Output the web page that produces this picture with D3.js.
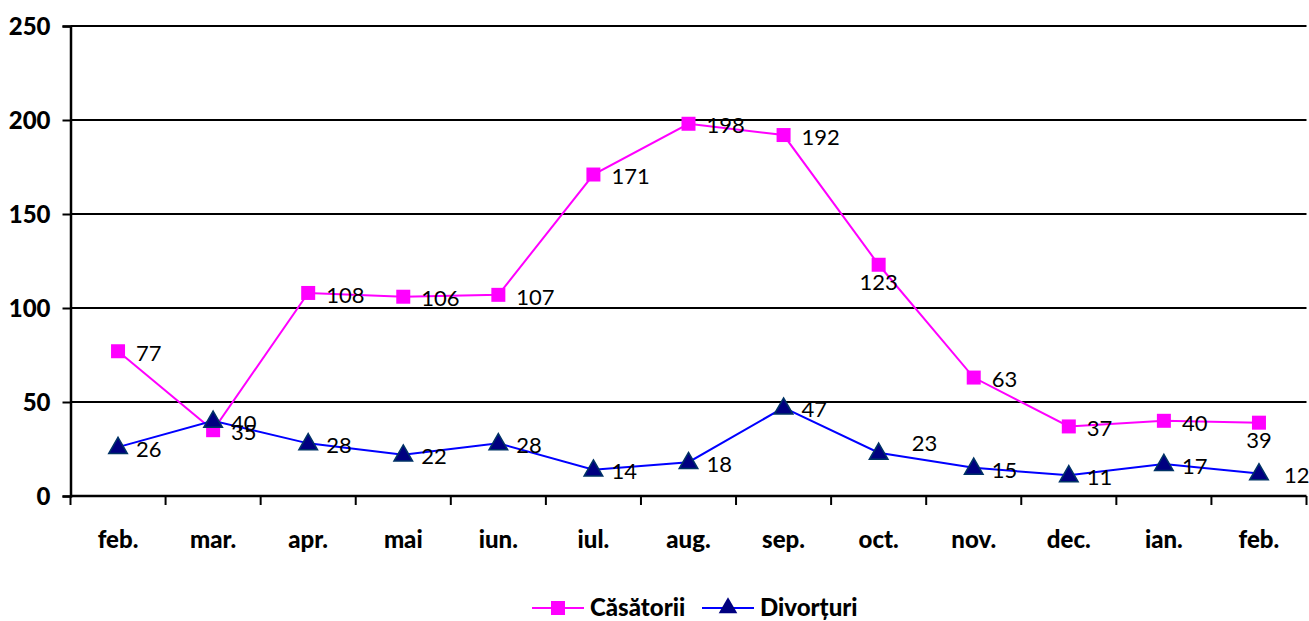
<!DOCTYPE html>
<html>
<head>
<meta charset="utf-8">
<script src="https://cdn.jsdelivr.net/npm/d3@7"></script>
<style>
  body { margin: 0; background: #fff; }
  text { font-family: Lato, "Open Sans", sans-serif; }
</style>
</head>
<body>
<div id="chart"></div>
<script>
//--------------------------- Data

var months = ["feb.", "mar.", "apr.", "mai", "iun.", "iul.", "aug.", "sep.", "oct.", "nov.", "dec.", "ian.", "feb."];
var casatorii = [77, 35, 108, 106, 107, 171, 198, 192, 123, 63, 37, 40, 39];
var divorturi = [26, 40, 28, 22, 28, 14, 18, 47, 23, 15, 11, 17, 12];
var yTicks = [0, 50, 100, 150, 200, 250];

// where each value label sits relative to its marker
var casLabelPos = ["r", "r", "r", "r", "r", "r", "r", "r", "b", "r", "r", "r", "b"];
var divLabelPos = ["r", "r", "r", "r", "r", "r", "r", "r", "ar", "r", "r", "r", "rr"];

//--------------------------- SVG definition

var width = 1309;
var height = 621;
var margin = { left: 70.5, right: 2.5, top: 26, bottom: 125 };

var svg = d3.select("#chart")
    .append("svg")
    .attr("width", width)
    .attr("height", height);

var x = d3.scaleBand()
    .domain(d3.range(months.length))
    .range([margin.left, width - margin.right]);

var y = d3.scaleLinear()
    .domain([0, 250])
    .range([height - margin.bottom, margin.top]);

var cx = function (i) { return x(i) + x.bandwidth() / 2; };

//--------------------------- Grid and axes

svg.append("g")
    .selectAll("line")
    .data(yTicks.slice(1))
    .enter()
    .append("line")
    .attr("x1", margin.left)
    .attr("x2", width - margin.right)
    .attr("y1", function (d) { return y(d); })
    .attr("y2", function (d) { return y(d); })
    .style("stroke", "#000")
    .style("stroke-width", 2);

var yAxis = svg.append("g")
    .attr("transform", "translate(" + margin.left + ",0)")
    .call(d3.axisLeft(y).tickValues(yTicks).tickSize(8).tickPadding(12));
yAxis.select(".domain").style("stroke-width", 2.5);
yAxis.selectAll(".tick line").style("stroke-width", 2);
yAxis.selectAll("text")
    .style("font-size", "24px")
    .style("font-weight", "900")
    .attr("dy", "0.35em");

var bounds = d3.range(months.length + 1).map(function (i) {
    return i < months.length ? x(i) : x(months.length - 1) + x.bandwidth();
});

var xAxis = svg.append("g")
    .attr("transform", "translate(0," + y(0) + ")");
xAxis.append("line")
    .attr("x1", margin.left)
    .attr("x2", width - margin.right)
    .style("stroke", "#000")
    .style("stroke-width", 2.5);
xAxis.selectAll("line.tk")
    .data(bounds)
    .enter()
    .append("line")
    .attr("class", "tk")
    .attr("x1", function (d) { return d; })
    .attr("x2", function (d) { return d; })
    .attr("y1", 0)
    .attr("y2", 9)
    .style("stroke", "#000")
    .style("stroke-width", 2);
xAxis.selectAll("text")
    .data(months)
    .enter()
    .append("text")
    .attr("x", function (d, i) { return cx(i); })
    .attr("y", 52)
    .attr("text-anchor", "middle")
    .style("font-size", "24px")
    .style("font-weight", "900")
    .text(function (d) { return d; });

//--------------------------- Series

var line = d3.line()
    .x(function (d, i) { return cx(i); })
    .y(function (d) { return y(d); });

svg.append("path")
    .attr("d", line(casatorii))
    .style("fill", "none")
    .style("stroke", "#ff00ff")
    .style("stroke-width", 2);

svg.append("path")
    .attr("d", line(divorturi))
    .style("fill", "none")
    .style("stroke", "#0000ff")
    .style("stroke-width", 2);

var square = d3.symbol().type(d3.symbolSquare).size(196);
var triangle = d3.symbol().type(d3.symbolTriangle).size(150);

svg.append("g")
    .selectAll("path")
    .data(casatorii)
    .enter()
    .append("path")
    .attr("d", square)
    .attr("transform", function (d, i) { return "translate(" + cx(i) + "," + y(d) + ")"; })
    .style("fill", "#ff00ff");

svg.append("g")
    .selectAll("path")
    .data(divorturi)
    .enter()
    .append("path")
    .attr("d", triangle)
    .attr("transform", function (d, i) { return "translate(" + cx(i) + "," + (y(d) + 1) + ")"; })
    .style("fill", "#000080")
    .style("stroke", "#003366")
    .style("stroke-width", 1.5);

//--------------------------- Value labels

function addLabels(values, pos) {
    svg.append("g")
        .selectAll("text")
        .data(values)
        .enter()
        .append("text")
        .attr("x", function (d, i) {
            if (pos[i] === "b") return cx(i);
            if (pos[i] === "ar") return cx(i) + 33;
            if (pos[i] === "rr") return cx(i) + 25;
            return cx(i) + 18;
        })
        .attr("y", function (d, i) {
            if (pos[i] === "b") return y(d) + 18;
            if (pos[i] === "ar") return y(d) - 9;
            return y(d) + 2;
        })
        .attr("dy", "0.35em")
        .attr("text-anchor", function (d, i) { return pos[i] === "b" ? "middle" : "start"; })
        .style("font-size", "22px")
        .style("fill", "#000")
        .text(function (d) { return d; });
}

addLabels(casatorii, casLabelPos);
addLabels(divorturi, divLabelPos);

//--------------------------- Legend

var legend = svg.append("g")
    .attr("transform", "translate(532,608)");

var items = [
    { name: "Căsătorii", color: "#ff00ff", sym: square, fill: "#ff00ff", x: 0 },
    { name: "Divorțuri", color: "#0000ff", sym: triangle, fill: "#000080", x: 170 }
];

var li = legend.selectAll("g")
    .data(items)
    .enter()
    .append("g")
    .attr("transform", function (d) { return "translate(" + d.x + ",0)"; });

li.append("line")
    .attr("x1", 0)
    .attr("x2", 52)
    .style("stroke", function (d) { return d.color; })
    .style("stroke-width", 2);
li.append("path")
    .attr("d", function (d) { return d.sym(); })
    .attr("transform", "translate(26,0)")
    .style("fill", function (d) { return d.fill; });
li.append("text")
    .attr("x", 58)
    .attr("dy", "0.35em")
    .style("font-size", "24px")
    .style("font-weight", "900")
    .text(function (d) { return d.name; });
</script>
</body>
</html>
